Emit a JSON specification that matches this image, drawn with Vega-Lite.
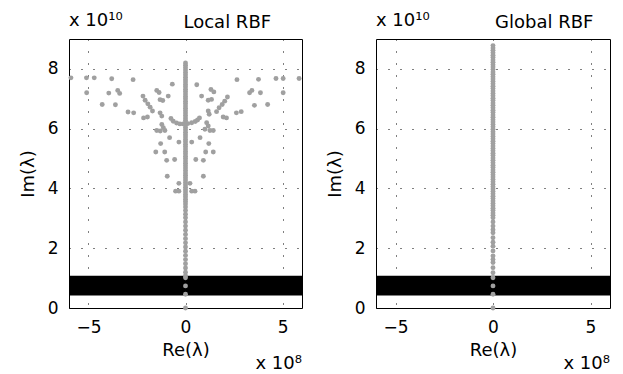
{
  "$schema": "https://vega.github.io/schema/vega-lite/v6.json",
  "background": "white",
  "padding": {"left": 18, "top": 11, "right": 0, "bottom": 0},
  "config": {
    "font": "DejaVu Sans",
    "view": {"stroke": "black", "strokeWidth": 1},
    "text": {"font": "DejaVu Sans", "fontSize": 18, "color": "black"},
    "axis": {
      "labelFont": "DejaVu Sans", "labelFontSize": 17, "labelColor": "black",
      "titleFont": "DejaVu Sans", "titleFontSize": 18, "titleFontWeight": "normal", "titleColor": "black",
      "ticks": false, "domain": false,
      "gridColor": "black", "gridDash": [1, 11], "gridOpacity": 1, "gridWidth": 1,
      "labelPadding": 11
    },
    "axisY": {"titlePadding": 10},
    "axisX": {"titlePadding": 6}
  },
  "datasets": {
    "band": [{"re": -6, "re2": 6, "im": 0.42, "im2": 1.08}],
    "labels": [{"t": "x 10¹⁰", "u": "x 10⁸", "a": "Local RBF", "b": "Global RBF"}],
    "local": [
      {"re":-5.9,"im":7.70},{"re":-5.1,"im":7.70},{"re":-4.7,"im":7.70},{"re":-3.8,"im":7.67},{"re":-2.7,"im":7.64},{"re":-0.68,"im":7.49},
      {"re":-5.09,"im":7.20},{"re":-3.95,"im":7.19},{"re":-3.49,"im":7.28},{"re":-3.39,"im":7.18},{"re":-1.48,"im":7.28},{"re":-1.36,"im":7.21},{"re":-0.89,"im":7.09},
      {"re":-4.29,"im":6.81},{"re":-3.61,"im":6.80},
      {"re":-2.19,"im":7.09},{"re":-2.08,"im":6.95},{"re":-1.94,"im":6.83},{"re":-1.82,"im":6.72},{"re":-1.70,"im":6.59},
      {"re":-1.31,"im":6.97},{"re":-1.17,"im":6.94},
      {"re":-2.96,"im":6.56},{"re":-2.67,"im":6.53},
      {"re":-2.16,"im":6.36},{"re":-1.96,"im":6.39},
      {"re":-1.31,"im":6.53},{"re":-1.22,"im":6.42},
      {"re":-0.75,"im":6.34},{"re":-0.63,"im":6.25},{"re":-0.46,"im":6.19},{"re":-0.29,"im":6.16},{"re":-0.12,"im":6.16},
      {"re":-1.22,"im":6.14},{"re":-1.14,"im":6.03},{"re":-1.48,"im":5.94},{"re":-1.30,"im":5.92},{"re":-1.06,"im":5.94},
      {"re":-0.82,"im":5.70},{"re":-0.34,"im":5.55},{"re":-1.28,"im":5.50},{"re":-1.53,"im":5.22},{"re":-1.07,"im":5.22},{"re":-0.97,"im":4.94},{"re":-0.56,"im":4.97},{"re":-0.94,"im":4.41},{"re":-0.34,"im":4.17},{"re":-0.51,"im":3.91},{"re":-0.34,"im":3.91},
      {"re":5.85,"im":7.68},{"re":5.03,"im":7.68},{"re":4.66,"im":7.68},{"re":3.76,"im":7.65},{"re":2.65,"im":7.64},{"re":0.58,"im":7.47},
      {"re":5.03,"im":7.20},{"re":3.86,"im":7.20},{"re":3.30,"im":7.20},{"re":3.42,"im":7.28},{"re":1.31,"im":7.31},{"re":1.46,"im":7.23},{"re":0.83,"im":7.09},
      {"re":4.23,"im":6.81},{"re":3.55,"im":6.78},
      {"re":2.16,"im":7.06},{"re":2.02,"im":6.92},{"re":1.89,"im":6.81},{"re":1.73,"im":6.70},{"re":1.60,"im":6.57},
      {"re":1.17,"im":6.95},{"re":1.34,"im":6.98},
      {"re":2.62,"im":6.53},{"re":2.87,"im":6.57},
      {"re":1.94,"im":6.39},{"re":2.11,"im":6.36},
      {"re":1.17,"im":6.59},{"re":1.22,"im":6.48},
      {"re":0.12,"im":6.17},{"re":0.32,"im":6.20},{"re":0.50,"im":6.24},{"re":0.62,"im":6.29},{"re":0.72,"im":6.36},
      {"re":1.09,"im":6.20},{"re":1.17,"im":6.09},{"re":1.00,"im":5.98},{"re":1.26,"im":5.94},{"re":1.43,"im":5.94},
      {"re":0.75,"im":5.70},{"re":0.32,"im":5.55},{"re":1.20,"im":5.50},{"re":1.04,"im":5.22},{"re":1.43,"im":5.22},{"re":0.53,"im":4.97},{"re":0.92,"im":4.94},{"re":0.92,"im":4.41},{"re":0.23,"im":4.17},{"re":0.32,"im":3.91},{"re":0.49,"im":3.91},
      {"re":0,"im":8.20},{"re":0,"im":8.12},{"re":0,"im":8.04},{"re":0,"im":7.96},{"re":0,"im":7.88},{"re":0,"im":7.80},{"re":0,"im":7.72},{"re":0,"im":7.64},{"re":0,"im":7.56},{"re":0,"im":7.48},
      {"re":0,"im":7.40},{"re":0,"im":7.32},{"re":0,"im":7.24},{"re":0,"im":7.16},{"re":0,"im":7.08},{"re":0,"im":7.00},{"re":0,"im":6.92},{"re":0,"im":6.84},{"re":0,"im":6.76},{"re":0,"im":6.68},
      {"re":0,"im":6.60},{"re":0,"im":6.52},{"re":0,"im":6.44},{"re":0,"im":6.36},{"re":0,"im":6.28},{"re":0,"im":6.20},{"re":0,"im":6.12},{"re":0,"im":6.04},{"re":0,"im":5.96},{"re":0,"im":5.88},
      {"re":0,"im":5.80},{"re":0,"im":5.72},{"re":0,"im":5.64},{"re":0,"im":5.56},{"re":0,"im":5.48},{"re":0,"im":5.40},{"re":0,"im":5.32},{"re":0,"im":5.24},{"re":0,"im":5.16},{"re":0,"im":5.08},
      {"re":0,"im":5.00},{"re":0,"im":4.92},{"re":0,"im":4.84},{"re":0,"im":4.76},{"re":0,"im":4.68},{"re":0,"im":4.60},{"re":0,"im":4.52},{"re":0,"im":4.44},{"re":0,"im":4.36},{"re":0,"im":4.28},
      {"re":0,"im":4.20},{"re":0,"im":4.12},{"re":0,"im":4.04},{"re":0,"im":3.96},{"re":0,"im":3.88},{"re":0,"im":3.80},{"re":0,"im":3.72},{"re":0,"im":3.64},{"re":0,"im":3.56},{"re":0,"im":3.48},
      {"re":0,"im":3.38},{"re":0,"im":3.26},{"re":0,"im":3.14},{"re":0,"im":3.02},{"re":0,"im":2.88},{"re":0,"im":2.74},{"re":0,"im":2.60},{"re":0,"im":2.46},{"re":0,"im":2.32},{"re":0,"im":2.18},
      {"re":0,"im":2.04},{"re":0,"im":1.90},{"re":0,"im":1.76},{"re":0,"im":1.62},{"re":0,"im":1.48},{"re":0,"im":1.34},{"re":0,"im":1.20},{"re":0,"im":1.08},{"re":0,"im":1.01},{"re":0,"im":0.74},{"re":0,"im":0.46},{"re":0,"im":0.0}
    ],
    "global": [
      {"re":0,"im":8.78},{"re":0,"im":8.70},{"re":0,"im":8.62},{"re":0,"im":8.54},{"re":0,"im":8.46},{"re":0,"im":8.38},{"re":0,"im":8.30},{"re":0,"im":8.22},{"re":0,"im":8.14},{"re":0,"im":8.06},
      {"re":0,"im":7.98},{"re":0,"im":7.90},{"re":0,"im":7.82},{"re":0,"im":7.74},{"re":0,"im":7.66},{"re":0,"im":7.58},{"re":0,"im":7.50},{"re":0,"im":7.42},{"re":0,"im":7.34},{"re":0,"im":7.26},
      {"re":0,"im":7.18},{"re":0,"im":7.10},{"re":0,"im":7.02},{"re":0,"im":6.94},{"re":0,"im":6.86},{"re":0,"im":6.78},{"re":0,"im":6.70},{"re":0,"im":6.62},{"re":0,"im":6.54},{"re":0,"im":6.46},
      {"re":0,"im":6.38},{"re":0,"im":6.30},{"re":0,"im":6.22},{"re":0,"im":6.14},{"re":0,"im":6.06},{"re":0,"im":5.98},{"re":0,"im":5.90},{"re":0,"im":5.82},{"re":0,"im":5.74},{"re":0,"im":5.66},
      {"re":0,"im":5.58},{"re":0,"im":5.50},{"re":0,"im":5.42},{"re":0,"im":5.34},{"re":0,"im":5.26},{"re":0,"im":5.18},{"re":0,"im":5.10},{"re":0,"im":5.02},{"re":0,"im":4.94},{"re":0,"im":4.86},
      {"re":0,"im":4.78},{"re":0,"im":4.70},{"re":0,"im":4.62},{"re":0,"im":4.54},{"re":0,"im":4.46},{"re":0,"im":4.38},{"re":0,"im":4.30},{"re":0,"im":4.22},{"re":0,"im":4.14},{"re":0,"im":4.06},
      {"re":0,"im":3.98},{"re":0,"im":3.90},{"re":0,"im":3.82},{"re":0,"im":3.74},{"re":0,"im":3.66},{"re":0,"im":3.58},{"re":0,"im":3.50},{"re":0,"im":3.42},{"re":0,"im":3.34},{"re":0,"im":3.26},
      {"re":0,"im":3.18},{"re":0,"im":3.10},{"re":0,"im":3.02},{"re":0,"im":2.88},{"re":0,"im":2.74},{"re":0,"im":2.62},{"re":0,"im":2.52},{"re":0,"im":2.35},{"re":0,"im":2.20},{"re":0,"im":2.07},
      {"re":0,"im":1.91},{"re":0,"im":1.74},{"re":0,"im":1.62},{"re":0,"im":1.52},{"re":0,"im":1.35},{"re":0,"im":1.18},{"re":0,"im":1.01},{"re":0,"im":0.74},{"re":0,"im":0.46},{"re":0,"im":0.0}
    ]
  },
  "bounds": "flush",
  "spacing": 74,
  "hconcat": [
    {
      "width": 233, "height": 269,
      "layer": [
        {"data": {"name": "band"}, "mark": {"type": "rect", "color": "black"},
          "encoding": {
            "x": {"field": "re", "type": "quantitative", "title": "Re(λ)", "scale": {"domain": [-6, 6], "nice": false, "zero": false}, "axis": {"values": [-5, 0, 5]}},
            "x2": {"field": "re2"},
            "y": {"field": "im", "type": "quantitative", "title": "Im(λ)", "scale": {"domain": [0, 9], "nice": false}, "axis": {"values": [0, 2, 4, 6, 8]}},
            "y2": {"field": "im2"}}},
        {"data": {"name": "local"}, "mark": {"type": "circle", "size": 24, "color": "#a0a0a0", "opacity": 1},
          "encoding": {"x": {"field": "re", "type": "quantitative"}, "y": {"field": "im", "type": "quantitative"}}},
        {"data": {"name": "labels"}, "mark": {"type": "text", "align": "left", "baseline": "alphabetic", "dx": -2, "dy": -11},
          "encoding": {"text": {"field": "a"}, "x": {"datum": 0}, "y": {"datum": 9}}},
        {"data": {"name": "labels"}, "mark": {"type": "text", "align": "left", "baseline": "alphabetic", "dy": -13},
          "encoding": {"text": {"field": "t"}, "x": {"datum": -6}, "y": {"datum": 9}}},
        {"data": {"name": "labels"}, "mark": {"type": "text", "align": "right", "baseline": "alphabetic", "dy": 61},
          "encoding": {"text": {"field": "u"}, "x": {"datum": 6}, "y": {"datum": 0}}}
      ]
    },
    {
      "width": 234, "height": 269,
      "layer": [
        {"data": {"name": "band"}, "mark": {"type": "rect", "color": "black"},
          "encoding": {
            "x": {"field": "re", "type": "quantitative", "title": "Re(λ)", "scale": {"domain": [-6, 6], "nice": false, "zero": false}, "axis": {"values": [-5, 0, 5]}},
            "x2": {"field": "re2"},
            "y": {"field": "im", "type": "quantitative", "title": "Im(λ)", "scale": {"domain": [0, 9], "nice": false}, "axis": {"values": [0, 2, 4, 6, 8]}},
            "y2": {"field": "im2"}}},
        {"data": {"name": "global"}, "mark": {"type": "circle", "size": 24, "color": "#a0a0a0", "opacity": 1},
          "encoding": {"x": {"field": "re", "type": "quantitative"}, "y": {"field": "im", "type": "quantitative"}}},
        {"data": {"name": "labels"}, "mark": {"type": "text", "align": "left", "baseline": "alphabetic", "dx": 2, "dy": -11},
          "encoding": {"text": {"field": "b"}, "x": {"datum": 0}, "y": {"datum": 9}}},
        {"data": {"name": "labels"}, "mark": {"type": "text", "align": "left", "baseline": "alphabetic", "dy": -13},
          "encoding": {"text": {"field": "t"}, "x": {"datum": -6}, "y": {"datum": 9}}},
        {"data": {"name": "labels"}, "mark": {"type": "text", "align": "right", "baseline": "alphabetic", "dy": 61},
          "encoding": {"text": {"field": "u"}, "x": {"datum": 6}, "y": {"datum": 0}}}
      ]
    }
  ]
}
